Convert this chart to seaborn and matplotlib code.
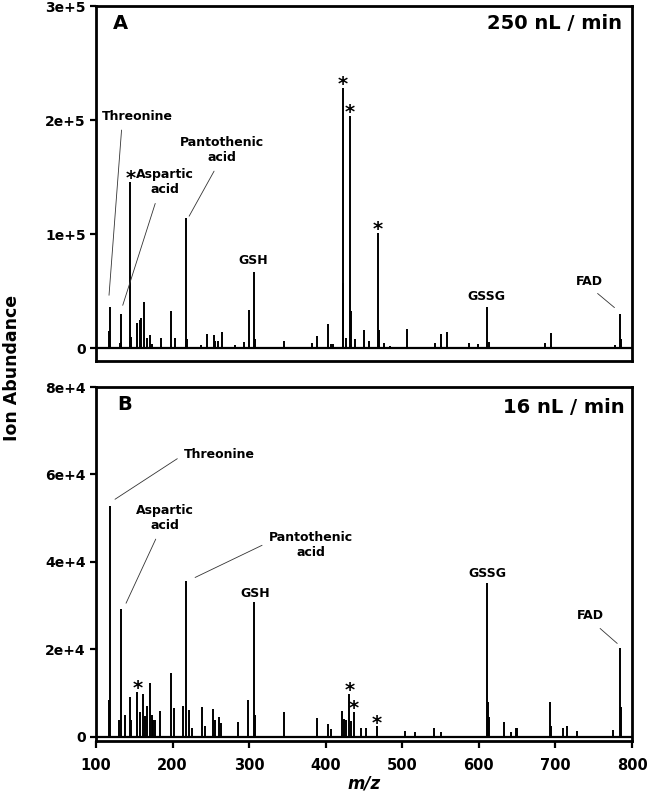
import pandas as pd
import seaborn as sns
import matplotlib.pyplot as plt

# Panel A: 250 nL/min spectrum (m/z, ion abundance)
mz_a = [117, 118, 131, 132, 133, 144, 145, 146, 154, 158, 159, 163, 167, 170, 173,
        185, 198, 203, 217, 218, 219, 237, 245, 254, 256, 259, 265, 281, 293, 300,
        306, 307, 346, 382, 388, 403, 407, 410, 422, 423, 426, 432, 433, 438, 450,
        457, 468, 469, 476, 484, 506, 543, 550, 558, 587, 599, 611, 613, 687, 694,
        778, 784, 785]
ab_a = [15000, 36500, 5000, 30500, 5500, 6000, 146000, 9600, 22000, 25000, 27000, 41000, 8700, 12000, 4000,
        9400, 32500, 9000, 6000, 114000, 8000, 2600, 12900, 12000, 6000, 6400, 14600, 2600, 5500, 33300,
        67000, 8000, 6400, 4700, 10500, 21000, 4000, 4000, 228500, 57300, 9000, 203500, 32700, 8000, 16400,
        6400, 101500, 16000, 5000, 2000, 17300, 4700, 12300, 14300, 5000, 4000, 36000, 5700, 5000, 13500,
        2500, 30400, 8000]

# Panel B: 16 nL/min spectrum
mz_b = [117, 118, 130, 132, 138, 144, 146, 154, 158, 162, 164, 167, 171, 173, 175,
        177, 184, 198, 202, 214, 218, 221, 226, 238, 243, 253, 256, 260, 263, 286,
        299, 306, 308, 346, 388, 403, 407, 421, 424, 426, 431, 433, 437, 446, 452,
        467, 504, 517, 542, 550, 611, 612, 613, 633, 642, 648, 650, 693, 694, 710,
        715, 728, 775, 784, 785]
ab_b = [8400, 52800, 3800, 29100, 4900, 9000, 3800, 10250, 5500, 9700, 4800, 7000, 12200, 5000, 3700,
        3700, 5900, 14500, 6600, 7000, 35600, 6000, 2000, 6800, 2500, 6300, 3800, 4500, 3000, 3300,
        8300, 30700, 5000, 5700, 4200, 2800, 1800, 5900, 4000, 3700, 9650, 3500, 5700, 1900, 1900,
        2300, 1200, 1000, 1900, 1000, 35200, 8000, 4500, 3400, 1000, 2000, 2000, 7800, 2300, 2000,
        2500, 1300, 1600, 20200, 6800]

# starred peaks
stars_a = [145, 422, 432, 468]
stars_b = [154, 431, 437, 467]

yticks_a = [0, 100000, 200000, 300000]
ytick_labels_a = ["0", "1e+5", "2e+5", "3e+5"]
yticks_b = [0, 20000, 40000, 60000, 80000]
ytick_labels_b = ["0", "2e+4", "4e+4", "6e+4", "8e+4"]
xticks = [100, 200, 300, 400, 500, 600, 700, 800]

# label text, text position (m/z, abundance), leader line end or None, relpos, ha
labels_a = [
    ("Threonine", (154.5, 203500), (117, 46500), (0.28, 0.0), "center"),
    ("Aspartic\nacid", (190.2, 145600), (134.9, 37700), (0.37, 0.0), "center"),
    ("Pantothenic\nacid", (264.7, 173600), (221.6, 115800), (0.45, 0.0), "center"),
    ("GSH", (304.8, 77200), None, None, "center"),
    ("GSSG", (609.4, 45600), None, None, "center"),
    ("FAD", (744, 59000), (777.1, 35700), (0.55, 0.0), "center"),
]
labels_b = [
    ("Threonine", (215, 64600), (124.8, 54300), (0.0, 0.5), "left"),
    ("Aspartic\nacid", (190.6, 50000), (139.2, 30500), (0.39, 0.0), "center"),
    ("Pantothenic\nacid", (381, 43900), (229.4, 36400), (0.0, 0.6), "center"),
    ("GSH", (307.8, 32800), None, None, "center"),
    ("GSSG", (611.5, 37300), None, None, "center"),
    ("FAD", (745.8, 27600), (780.7, 21300), (0.6, 0.0), "center"),
]

sns.set_theme(style="ticks")
plt.rcParams['font.family'] = ['DejaVu Sans']
plt.rcParams['font.weight'] = 'bold'
plt.rcParams['text.color'] = 'black'
plt.rcParams['xtick.color'] = 'black'
plt.rcParams['ytick.color'] = 'black'


def draw_panel(ax, mz, ab, ylim, yticks, yticklabels, letter, rate, labels, stars):
    df = pd.DataFrame({"mz": mz, "ab": ab})
    ax.vlines(df["mz"], 0, df["ab"], color="black", lw=1.4)
    ax.axhline(0, color="black", lw=1.6)
    ax.set_xlim(100, 800)
    ax.set_ylim(*ylim)
    ax.set_yticks(yticks)
    ax.set_yticklabels(yticklabels, fontsize=10, fontweight="bold", color="black")
    ax.tick_params(axis="y", direction="out", length=4.5, width=1.6, pad=3, colors="black")
    for s in ax.spines.values():
        s.set_linewidth(2.0)
        s.set_color("black")
    ax.text(letter[1], 0.95, letter[0], transform=ax.transAxes, fontsize=14,
            fontweight="bold", ha="left", va="center", color="black")
    ax.text(rate[1], rate[2], rate[0], transform=ax.transAxes, fontsize=14,
            fontweight="bold", ha="right", va="center", color="black")
    for text, pos, tip, rel, ha in labels:
        if tip is None:
            ax.text(pos[0], pos[1], text, fontsize=9, fontweight="bold", color="black",
                    ha=ha, va="center", multialignment="center")
        else:
            ax.annotate(text, xy=tip, xytext=pos, fontsize=9, fontweight="bold", color="black",
                        ha=ha, va="center", multialignment="center",
                        arrowprops=dict(arrowstyle="-", lw=0.6, color="#333333",
                                        relpos=rel, shrinkA=3, shrinkB=0))
    lookup = dict(zip(mz, ab))
    for m in stars:
        ax.annotate("*", xy=(m, lookup[m]), xytext=(0, -1.5), textcoords="offset points",
                    ha="center", va="baseline", fontsize=14, fontweight="bold", color="black")


fig = plt.figure(figsize=(6.47, 7.93), dpi=100)
ax_a = fig.add_axes([96 / 647, 1 - 361 / 793, 536 / 647, 355 / 793])
ax_b = fig.add_axes([96 / 647, 1 - 741 / 793, 536 / 647, 354 / 793])

draw_panel(ax_a, mz_a, ab_a, (-11100, 300000), yticks_a, ytick_labels_a,
           ("A", 0.031), ("250 nL / min", 0.982, 0.95), labels_a, stars_a)
draw_panel(ax_b, mz_b, ab_b, (-1030, 80000), yticks_b, ytick_labels_b,
           ("B", 0.039), ("16 nL / min", 0.986, 0.943), labels_b, stars_b)

ax_a.set_xticks(xticks)
ax_a.tick_params(axis="x", bottom=False, labelbottom=False)
ax_b.set_xticks(xticks)
ax_b.set_xticklabels([str(t) for t in xticks], fontsize=10.5, fontweight="bold", color="black")
ax_b.tick_params(axis="x", direction="out", length=5, width=1.6, pad=7, colors="black")

fig.text(12.5 / 647, 1 - 368 / 793, "Ion Abundance", rotation=90, ha="center",
         va="center", fontsize=12.5, fontweight="bold", color="black")
fig.text(364 / 647, 1 - 783 / 793, "m/z", ha="center", va="center",
         fontsize=12, fontweight="bold", style="italic", color="black")

plt.savefig("out.png", dpi=100)
